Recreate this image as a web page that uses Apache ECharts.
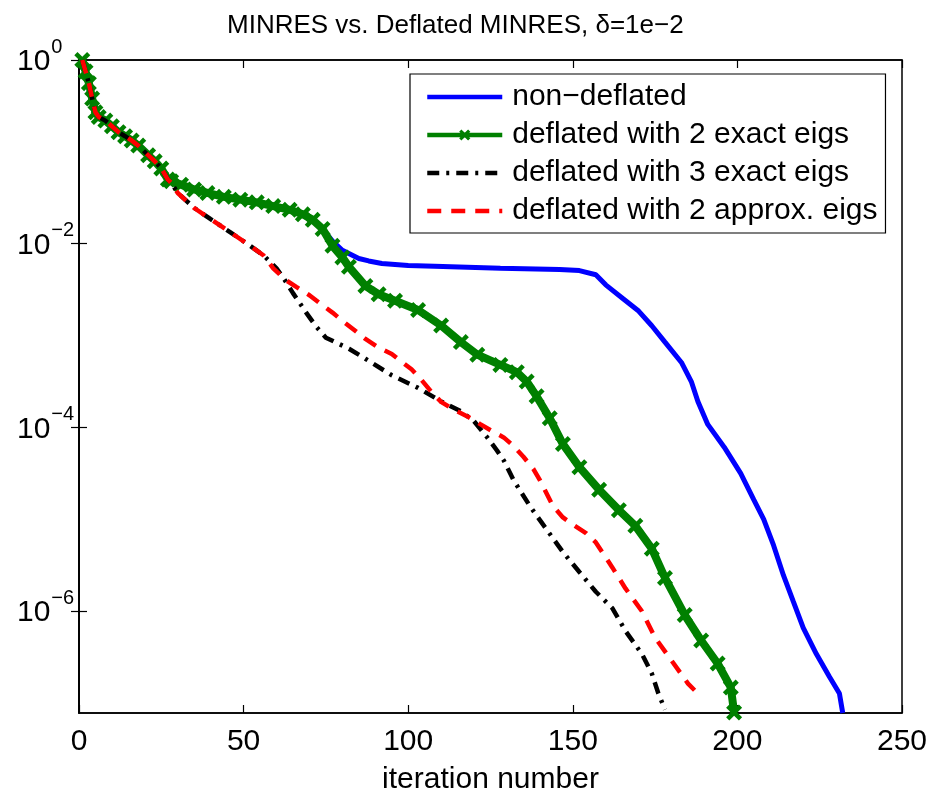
<!DOCTYPE html>
<html>
<head>
<meta charset="utf-8">
<script src="https://cdn.jsdelivr.net/npm/echarts@6/dist/echarts.min.js"></script>
<style>
html,body{margin:0;padding:0;background:#fff;}
#chart{width:932px;height:800px;}
</style>
</head>
<body>
<div id="chart"></div>
<script>
// ---- data ----
var titleText = 'MINRES vs. Deflated MINRES, \u03b4=1e\u22122';
var seriesNames = ['non\u2212deflated', 'deflated with 2 exact eigs', 'deflated with 3 exact eigs', 'deflated with 2 approx. eigs'];
var xTicks = [0, 50, 100, 150, 200, 250];
var yTicks = [1, 1e-2, 1e-4, 1e-6];

var blueIter = [1,2,3,4,5,6,8,10,12,14,16,18,21,23,25,27,28,31,35,39,44,49,54,59,64,68,71,74,77,80,85,88,92,100,108,128,146,152,157,160,165,170,174,178,183,186,188,191,196,201,205,208,211,214,217,220,224,228,231,232];
var blueRes = [1,0.75,0.56,0.38,0.27,0.24,0.219,0.19,0.164,0.148,0.133,0.117,0.092,0.079,0.066,0.050,4.8e-2,4.4e-2,3.9e-2,3.57e-2,3.24e-2,3.02e-2,2.82e-2,2.57e-2,2.34e-2,2.09e-2,1.82e-2,1.45e-2,1.07e-2,8.5e-3,6.9e-3,6.5e-3,6.1e-3,5.8e-3,5.7e-3,5.4e-3,5.25e-3,5.1e-3,4.6e-3,3.57e-3,2.57e-3,1.85e-3,1.28e-3,8.5e-4,5.1e-4,3.16e-4,1.92e-4,1.08e-4,6.1e-5,3.16e-5,1.63e-5,1.0e-5,5.2e-6,2.45e-6,1.27e-6,6.6e-7,3.42e-7,1.92e-7,1.27e-7,7.8e-8];

var greenIter = [1,2,3,4,5,6,8,10,12,14,16,18,21,23,25,27,28,31,35,39,44,49,54,59,64,68,71,74,77,80,82,87,91,96,103,110,116,121,128,133,136,139,143,147,152,158,164,169,174,178,184,189,194,198,199];
var greenRes = [1,0.75,0.56,0.38,0.27,0.24,0.219,0.19,0.164,0.148,0.133,0.117,0.092,0.079,0.066,0.050,4.8e-2,4.4e-2,3.9e-2,3.57e-2,3.24e-2,3.02e-2,2.82e-2,2.57e-2,2.34e-2,2.09e-2,1.82e-2,1.45e-2,9.5e-3,7.1e-3,5.6e-3,3.47e-3,2.82e-3,2.4e-3,1.9e-3,1.29e-3,8.5e-4,6.2e-4,4.8e-4,4.0e-4,3.16e-4,2.19e-4,1.26e-4,6.6e-5,3.7e-5,2.1e-5,1.26e-5,8.5e-6,4.8e-6,2.3e-6,9.1e-7,4.8e-7,2.7e-7,1.48e-7,7.9e-8];

var blackIter = [1,2,3,4,5,6,8,10,12,14,16,18,21,23,25,27,28,30,35,40,46,52,56,60,62,65,69,72,75,82,87,95,103,110,116,120,124,127,129,132,137,142,147,152,157,162,166,171,174,176,178];
var blackRes = [1,0.75,0.56,0.38,0.27,0.24,0.219,0.19,0.164,0.148,0.133,0.117,0.092,0.079,0.066,0.050,4.6e-2,3.57e-2,2.45e-2,1.85e-2,1.33e-2,9.5e-3,7.5e-3,5.4e-3,4.3e-3,2.9e-3,1.78e-3,1.26e-3,9.5e-4,7.2e-4,5.6e-4,3.7e-4,2.7e-4,1.92e-4,1.5e-4,1.17e-4,7.8e-5,5.6e-5,4.4e-5,2.67e-5,1.39e-5,7.8e-6,4.4e-6,2.67e-6,1.63e-6,1.08e-6,6.1e-7,3.42e-7,2.1e-7,1.27e-7,8.5e-8];

var redIter = [1,2,3,4,5,6,8,10,12,14,16,18,21,23,25,27,28,30,35,40,46,52,56,59,63,66,70,73,77,80,84,87,91,95,98,101,104,107,110,114,118,122,126,129,132,135,138,140,144,147,150,154,157,162,166,171,175,180,185,187];
var redRes = [1,0.75,0.56,0.38,0.27,0.24,0.219,0.19,0.164,0.148,0.133,0.117,0.092,0.079,0.066,0.050,4.6e-2,3.57e-2,2.45e-2,1.85e-2,1.33e-2,9.5e-3,7.5e-3,5.4e-3,3.98e-3,3.39e-3,2.75e-3,2.27e-3,1.78e-3,1.45e-3,1.12e-3,9.2e-4,7.4e-4,6.3e-4,5.2e-4,4.3e-4,3.3e-4,2.45e-4,1.9e-4,1.55e-4,1.32e-4,1.08e-4,8.9e-5,7.8e-5,6.3e-5,4.8e-5,3.55e-5,2.67e-5,1.39e-5,1.05e-5,8.8e-6,7.1e-6,5.6e-6,3.0e-6,1.77e-6,1.0e-6,5.15e-7,2.9e-7,1.63e-7,1.38e-7];

var yMin = 7.8e-8, yMax = 1;

function pairs(xs, ys) { return xs.map(function (x, i) { return [x, ys[i]]; }); }

var FONT = '"Liberation Sans", Arial, Helvetica, sans-serif';
var xMark = 'path://M0,2 L2,0 L5,3 L8,0 L10,2 L7,5 L10,8 L8,10 L5,7 L2,10 L0,8 L3,5 Z';
var HIDE = {color: 'rgba(0,0,0,0)', borderColor: 'rgba(0,0,0,0)', borderWidth: 0, opacity: 0};

var chart = echarts.init(document.getElementById('chart'), null, {renderer: 'canvas'});

function yLabelFmt(v) {
  var e = Math.round(Math.log(v) / Math.LN10);
  var es = e < 0 ? '\u2212' + (-e) : String(e);
  return '{b|10}{s|' + es + '}';
}

var option = {
  backgroundColor: '#ffffff',
  animation: false,
  title: {
    text: titleText,
    left: 222,
    top: 8,
    textStyle: {fontFamily: FONT, fontSize: 26, fontWeight: 'normal', color: '#000'}
  },
  grid: {left: 79, right: 30, top: 60, bottom: 77, show: true, borderColor: '#000', borderWidth: 1.5, backgroundColor: '#fff'},
  legend: {
    orient: 'vertical',
    left: 410,
    top: 74,
    padding: [8, 8, 7, 15],
    itemWidth: 75,
    itemHeight: 14,
    itemGap: 8,
    backgroundColor: '#fff',
    borderColor: '#000',
    borderWidth: 1.2,
    borderRadius: 0,
    textStyle: {fontFamily: FONT, fontSize: 30, color: '#000', lineHeight: 30, padding: [0, 0, 0, 5]},
    data: [
      {name: seriesNames[0], itemStyle: HIDE, lineStyle: {width: 4.5}},
      {name: seriesNames[1], lineStyle: {width: 4.5}},
      {name: seriesNames[2], itemStyle: HIDE, lineStyle: {width: 4.5}},
      {name: seriesNames[3], itemStyle: HIDE, lineStyle: {width: 4.5}}
    ]
  },
  xAxis: [{
    type: 'value', min: 0, max: 250, interval: 50, position: 'bottom',
    name: 'iteration number', nameLocation: 'middle', nameGap: 52,
    nameTextStyle: {fontFamily: FONT, fontSize: 30, color: '#000'},
    axisLine: {show: true, lineStyle: {color: '#000', width: 1.5}},
    axisTick: {show: true, inside: true, length: 8, lineStyle: {color: '#000', width: 1.2}},
    axisLabel: {fontFamily: FONT, fontSize: 30, color: '#000', margin: 14},
    splitLine: {show: false}
  }, {
    type: 'value', min: 0, max: 250, interval: 50, position: 'top',
    axisLine: {show: true, lineStyle: {color: '#000', width: 1.5}},
    axisTick: {show: true, inside: true, length: 8, lineStyle: {color: '#000', width: 1.2}},
    axisLabel: {show: false},
    splitLine: {show: false}
  }],
  yAxis: [{
    type: 'log', logBase: 10, min: yMin, max: yMax, position: 'left',
    axisLine: {show: true, lineStyle: {color: '#000', width: 1.5}},
    axisTick: {show: true, inside: true, length: 8, lineStyle: {color: '#000', width: 1.2}, customValues: yTicks},
    axisLabel: {
      customValues: yTicks,
      align: 'left', margin: 62, padding: [0, 0, 6, 0],
      formatter: yLabelFmt,
      rich: {
        b: {fontFamily: FONT, fontSize: 30, color: '#000', lineHeight: 30, padding: [10, 0, 0, 0]},
        s: {fontFamily: FONT, fontSize: 20, color: '#000', lineHeight: 20, padding: [0, 0, 20, 1]}
      }
    },
    splitLine: {show: false},
    minorTick: {show: false}
  }, {
    type: 'log', logBase: 10, min: yMin, max: yMax, position: 'right',
    axisLine: {show: true, lineStyle: {color: '#000', width: 1.5}},
    axisTick: {show: true, inside: true, length: 8, lineStyle: {color: '#000', width: 1.2}, customValues: yTicks},
    axisLabel: {show: false},
    splitLine: {show: false}
  }],
  series: [{
    name: seriesNames[0], type: 'line', xAxisIndex: 0, yAxisIndex: 0,
    data: pairs(blueIter, blueRes), symbol: 'none', z: 2,
    lineStyle: {color: '#0000ff', width: 5}, itemStyle: {color: '#0000ff'}
  }, {
    name: seriesNames[1], type: 'line', xAxisIndex: 0, yAxisIndex: 0,
    data: pairs(greenIter, greenRes), symbol: xMark, symbolSize: 16, showSymbol: true, z: 3,
    lineStyle: {color: '#008000', width: 8}, itemStyle: {color: '#008000', borderWidth: 0}
  }, {
    name: seriesNames[2], type: 'line', xAxisIndex: 0, yAxisIndex: 0,
    data: pairs(blackIter, blackRes), symbol: 'none', z: 4,
    lineStyle: {color: '#000000', width: 4.5, type: [12, 7, 3, 7]}, itemStyle: {color: '#000000'}
  }, {
    name: seriesNames[3], type: 'line', xAxisIndex: 0, yAxisIndex: 0,
    data: pairs(redIter, redRes), symbol: 'none', z: 5,
    lineStyle: {color: '#ff0000', width: 4.5, type: [14, 10]}, itemStyle: {color: '#ff0000'}
  }]
};
chart.setOption(option);
</script>
</body>
</html>
